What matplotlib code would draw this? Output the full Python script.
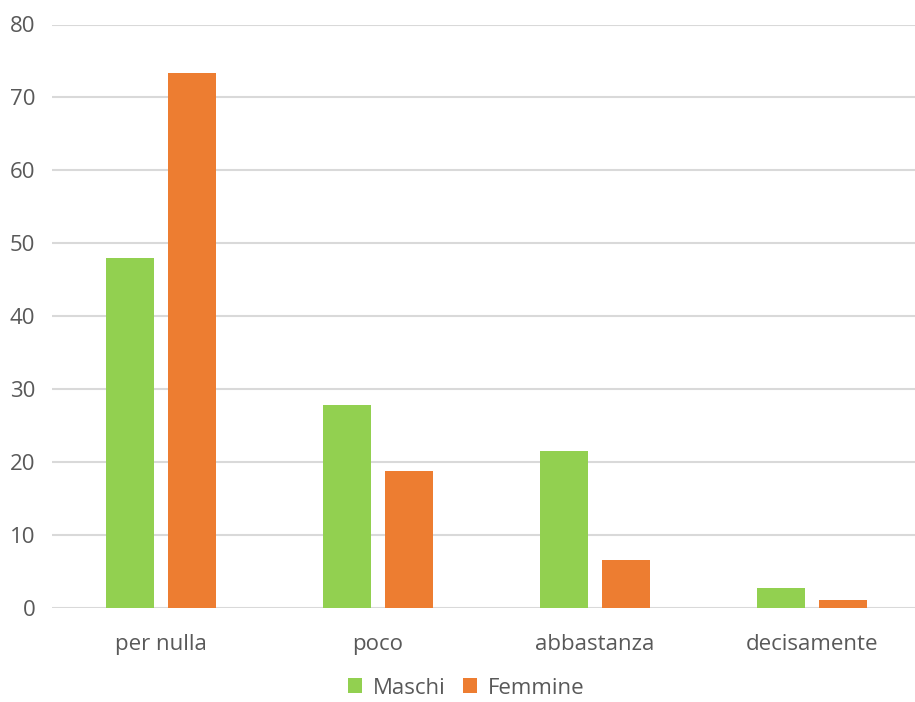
import matplotlib.pyplot as plt
import numpy as np

categorie = ["per nulla", "poco", "abbastanza", "decisamente"]
maschi = [48.0, 27.8, 21.5, 2.7]
femmine = [73.3, 18.8, 6.6, 1.1]

plt.rcParams['font.family'] = ['Open Sans', 'DejaVu Sans']

W, H = 915, 702
fig = plt.figure(figsize=(W / 100, H / 100), dpi=100)
# area del grafico: da x=52 a x=921 px, da y=24.5 a y=608 px
ax = fig.add_axes([52 / W, 1 - 608 / H, 869 / W, (608 - 24.5) / H])

x = np.arange(len(categorie))
w = 0.221
off = 0.143
ax.bar(x - off, maschi, w, color="#92D050", label="Maschi", zorder=3)
ax.bar(x + off, femmine, w, color="#ED7D31", label="Femmine", zorder=3)

ax.set_xlim(-0.5, len(categorie) - 0.5)
ax.set_ylim(0, 80)
ax.set_yticks(range(0, 81, 10))
ax.set_xticks(x)
ax.set_xticklabels(categorie)

ax.yaxis.grid(True, color="#D9D9D9", linewidth=1.5, zorder=0)
for s in ax.spines.values():
    s.set_visible(False)
ax.tick_params(length=0, labelsize=16, colors="#595959")
ax.tick_params(axis="y", pad=12)
ax.tick_params(axis="x", pad=19)

fig.legend(*ax.get_legend_handles_labels(), loc="center",
           bbox_to_anchor=(466 / W, 1 - 688 / H), ncol=2, frameon=False,
           fontsize=16, labelcolor="#595959", handlelength=0.65, handleheight=0.65,
           handletextpad=0.45, columnspacing=0.8, borderpad=0, borderaxespad=0)

fig.savefig("out.png", dpi=100)
